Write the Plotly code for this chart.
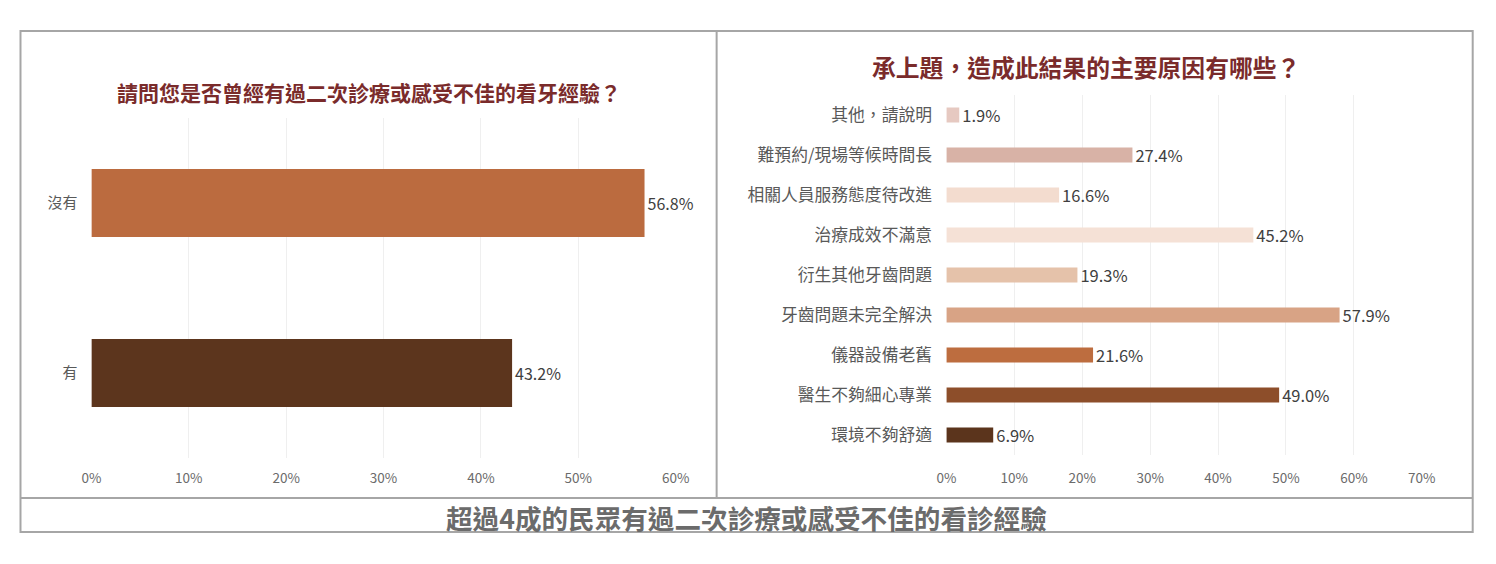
import plotly.graph_objects as go

# page has an 8px body margin; figure fills the rest of the 1496x564 window
OFF = 8
W, H = 1496 - 2 * OFF, 564 - 2 * OFF
# measured horizontal mapping of the rendered page: screen_x = XA + XB * figure_x
XA, XB = 17.5, 0.985

# ---- data ----
left_title = "請問您是否曾經有過二次診療或感受不佳的看牙經驗？"
left_cats = ["沒有", "有"]
left_vals = [56.8, 43.2]
left_colors = ["#bb6b3f", "#5c351d"]

right_title = "承上題，造成此結果的主要原因有哪些？"
right_cats = ["其他，請說明", "難預約/現場等候時間長", "相關人員服務態度待改進", "治療成效不滿意",
              "衍生其他牙齒問題", "牙齒問題未完全解決", "儀器設備老舊", "醫生不夠細心專業", "環境不夠舒適"]
right_vals = [1.9, 27.4, 16.6, 45.2, 19.3, 57.9, 21.6, 49.0, 6.9]
right_colors = ["#e6c9c1", "#d8b2a6", "#f3dccf", "#f5e1d6", "#e5c2aa", "#d8a385", "#bd6d3f", "#8d4e2a", "#5b341c"]

left_ticks = [0, 10, 20, 30, 40, 50, 60]
left_ticktext = ["0%", "10%", "20%", "30%", "40%", "50%", "60%"]
right_ticks = [0, 10, 20, 30, 40, 50, 60, 70]
right_ticktext = ["0%", "10%", "20%", "30%", "40%", "50%", "60%", "70%"]
caption = "超過4成的民眾有過二次診療或感受不佳的看診經驗"

FONT = "Noto Sans CJK TC, Microsoft JhengHei, sans-serif"


def px(x):
    return ((x - XA) / XB) / W


def py(y):
    return 1 - (y - OFF) / H


fig = go.Figure()
fig.add_trace(go.Bar(
    x=left_vals, y=left_cats, orientation="h", marker=dict(color=left_colors, line=dict(width=0)),
    texttemplate="%{x:.1f}%", textposition="outside", cliponaxis=False, constraintext="none",
    textfont=dict(size=16, color="#404040", family=FONT), xaxis="x", yaxis="y", hoverinfo="x+y",
))
fig.add_trace(go.Bar(
    x=right_vals, y=right_cats, orientation="h", marker=dict(color=right_colors, line=dict(width=0)),
    texttemplate="%{x:.1f}%", textposition="outside", cliponaxis=False, constraintext="none",
    width=0.38,
    textfont=dict(size=16.5, color="#404040", family=FONT), xaxis="x2", yaxis="y2", hoverinfo="x+y",
))

axis_common = dict(showline=False, zeroline=False, showgrid=True, gridcolor="#efefef", gridwidth=1,
                   ticks="outside", tickcolor="rgba(0,0,0,0)",
                   tickfont=dict(size=13.5, color="#6b6b6b", family=FONT), fixedrange=True)
yaxis_common = dict(showline=False, zeroline=False, showgrid=False, autorange="reversed",
                    ticks="outside", ticklen=10, tickcolor="rgba(0,0,0,0)", fixedrange=True)

fig.update_layout(
    width=W, height=H, margin=dict(l=0, r=0, t=0, b=0), autosize=False,
    paper_bgcolor="white", plot_bgcolor="white", showlegend=False, bargap=0.6,
    font=dict(family=FONT),
    xaxis=dict(domain=[px(91), px(676)], range=[0, 60], tickvals=left_ticks, ticktext=left_ticktext,
               anchor="y", ticklen=8, **axis_common),
    yaxis=dict(domain=[py(458), py(118)], anchor="x",
               tickfont=dict(size=15, color="#595959", family=FONT), **yaxis_common),
    xaxis2=dict(domain=[px(947), px(1423)], range=[0, 70], tickvals=right_ticks, ticktext=right_ticktext,
                anchor="y2", ticklen=11, **axis_common),
    yaxis2=dict(domain=[py(455), py(95)], anchor="x2",
                tickfont=dict(size=16.8, color="#595959", family=FONT), **yaxis_common),
)

# titles and caption
ann = dict(xref="paper", yref="paper", showarrow=False, xanchor="center", yanchor="middle")
fig.add_annotation(text="<b>" + left_title + "</b>", x=px(369), y=py(92),
                   font=dict(size=21, color="#7a2b2b", family=FONT), **ann)
fig.add_annotation(text="<b>" + right_title + "</b>", x=px(1087), y=py(66),
                   font=dict(size=23.8, color="#7a2b2b", family=FONT), **ann)
fig.add_annotation(text="<b>" + caption + "</b>", x=px(747), y=py(517),
                   font=dict(size=26.6, color="#6b6b6b", family=FONT), **ann)

# frame lines
line = dict(color="#a6a6a6", width=2)
fig.add_shape(type="rect", xref="paper", yref="paper", x0=px(20), x1=px(1474), y0=py(532), y1=py(31), line=line)
fig.add_shape(type="line", xref="paper", yref="paper", x0=px(717), x1=px(717), y0=py(498), y1=py(31), line=line)
fig.add_shape(type="line", xref="paper", yref="paper", x0=px(20), x1=px(1474), y0=py(498), y1=py(498), line=line)

fig.write_html("out.html")
